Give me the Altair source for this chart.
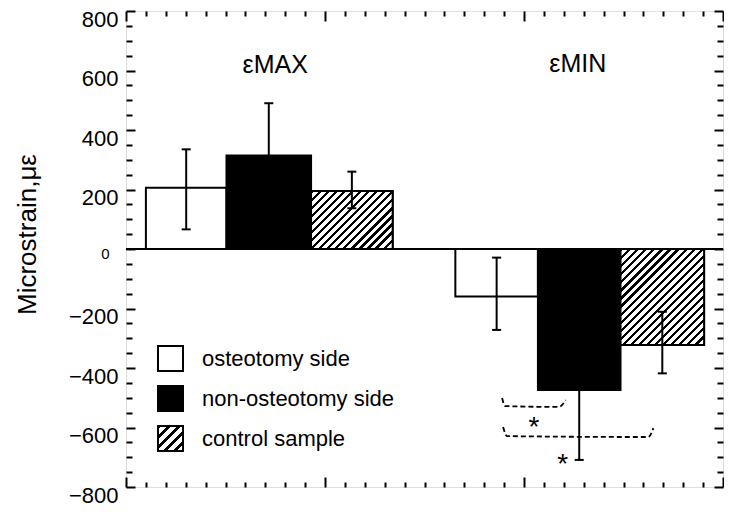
import math
import altair as alt
import pandas as pd

# ---------------- data ----------------
series_names = ["osteotomy side", "non-osteotomy side", "control sample"]
bar_group = ["εMAX", "εMAX", "εMAX", "εMIN", "εMIN", "εMIN"]
bar_series = series_names * 2
bar_start = [1.0, 5.05, 9.3, 16.55, 20.7, 24.85]
bar_end = [5.05, 9.3, 13.4, 20.7, 24.85, 29.05]
bar_mean = [206, 314, 195, -160, -474, -323]
err_low = [66, 138, 137, -272, -709, -418]
err_high = [335, 490, 260, -29, -239, -211]

heading_text = ["εMAX", "εMIN"]
heading_x = [7.5, 22.7]
heading_y = [618, 622]

bracket_id = [1, 1, 1, 1, 2, 2, 2, 2]
bracket_x = [18.9, 19.05, 21.75, 22.1, 18.95, 19.15, 26.25, 26.5]
bracket_y = [-501, -528, -531, -508, -598, -629, -632, -602]

star_x = [20.5, 21.95]
star_y = [-578, -703]

zero_line = [0]
y_major = list(range(-800, 801, 200))
y_minor = list(range(-800, 801, 50))
x_minor = list(range(0, 31))

# ---------------- layout ----------------
PAD_L, PAD_R, PAD_T, PAD_B = 118, 1, 3, 22
W, H = 597, 476
X_DOM, Y_DOM = [0, 30], [-800, 800]
FONT = "Liberation Sans"

xs = alt.Scale(domain=X_DOM, nice=False, zero=False)
ys = alt.Scale(domain=Y_DOM, nice=False, zero=False)

bars_df = pd.DataFrame({
    "idx": list(range(len(bar_mean))),
    "group": bar_group,
    "series": bar_series,
    "x0": bar_start,
    "x1": bar_end,
    "mean": bar_mean,
    "lo": err_low,
    "hi": err_high,
})


def hatch_stops(D, period, frac=0.4):
    stops = []
    n = math.ceil(D / period) + 1
    for i in range(n):
        a = i * period / D
        b = (i + frac) * period / D
        c = (i + 1) * period / D
        for off, col in [(a, "black"), (b, "black"), (b, "white"), (c, "white")]:
            if off <= 1:
                stops.append((off, col))
    return stops


def hatch_gradient(wpx, hpx, period=5.7):
    k = (1 / hpx + 1 / wpx) / (1 / hpx ** 2 + 1 / wpx ** 2)
    D = (wpx + hpx) / math.sqrt(2)
    return alt.LinearGradient(
        gradient="linear", x1=0, y1=0, x2=k / hpx, y2=k / wpx,
        stops=[alt.GradientStop(offset=o, color=c) for o, c in hatch_stops(D, period)],
    )


def legend_hatch_expr(side=25, period=7.0):
    D = 2 * side / math.sqrt(2)
    parts = ",".join("{offset:%.4f,color:'%s'}" % (o, c) for o, c in hatch_stops(D, period))
    return "{gradient:'linear',x1:0,y1:0,x2:1,y2:1,stops:[" + parts + "]}"


def cond(test, a, b):
    return {"condition": {"test": test, "value": a}, "value": b}


def tick_axis(orient, offset, values, test, major, minor):
    return alt.Axis(orient=orient, offset=offset, values=values, labels=False,
                    domain=False, grid=False, ticks=True, tickColor="black",
                    tickWidth=2, tickSize=cond(test, major, minor), title=None)


y_main_axis = alt.Axis(
    orient="left", values=y_major, ticks=False, tickSize=0, domain=False, grid=False,
    labelPadding=cond("datum.value === 0", 17, 8), labelColor="black", labelFont=FONT,
    labelFontSize=cond("datum.value === 0", 15, 22),
    labelOffset=cond("datum.value === 0", 4, 8),
    labelOverlap=False, labelFlush=False,
    title="Microstrain,με", titleFont=FONT, titleFontSize=26, titleFontWeight="normal",
    titleColor="black", titleX=-99, titleY=223, titleAngle=270,
    titleAlign="center", titleBaseline="middle",
)

base = alt.Chart(bars_df)

bars = base.mark_rect(stroke="black", strokeWidth=2).transform_calculate(zero="0").encode(
    x=alt.X("x0:Q", scale=xs, axis=None),
    x2="x1:Q",
    y=alt.Y("mean:Q", scale=ys, axis=y_main_axis),
    y2="zero:Q",
    fill=alt.Fill(
        "series:N",
        scale=alt.Scale(domain=series_names,
                        range=["white", "black", alt.ExprRef(expr=legend_hatch_expr())]),
        legend=alt.Legend(
            title=None, orient="none", legendX=31, legendY=334,
            symbolType="square", symbolSize=625, symbolStrokeColor="black",
            symbolStrokeWidth=2, symbolOpacity=1, labelFont=FONT, labelFontSize=22,
            labelColor="black", labelOffset=18, rowPadding=7, labelLimit=400,
        ),
    ),
)

layers = [bars]

# hatched overlays (one gradient per bar so stripes stay at 45°)
for i, s in enumerate(bar_series):
    if s != "control sample":
        continue
    wpx = (bar_end[i] - bar_start[i]) * W / (X_DOM[1] - X_DOM[0])
    hpx = abs(bar_mean[i]) * H / (Y_DOM[1] - Y_DOM[0])
    layers.append(
        base.transform_filter(f"datum.idx == {i}").transform_calculate(zero="0")
        .mark_rect(stroke="black", strokeWidth=2, fill=hatch_gradient(wpx, hpx))
        .encode(x=alt.X("x0:Q", scale=xs, axis=None), x2="x1:Q",
                y=alt.Y("mean:Q", scale=ys, axis=None), y2="zero:Q")
    )

zero_rule = alt.Chart(pd.DataFrame({"v": zero_line})).mark_rule(
    color="black", strokeWidth=2).encode(y=alt.Y("v:Q", scale=ys, axis=None))
layers.append(zero_rule)

whiskers = base.transform_calculate(xc="(datum.x0 + datum.x1) / 2").mark_rule(
    color="black", strokeWidth=2).encode(
    x=alt.X("xc:Q", scale=xs,
            axis=tick_axis("top", -H, x_minor, "datum.value % 10 === 0", 10, 5)),
    y=alt.Y("lo:Q", scale=ys,
            axis=tick_axis("right", -W, y_minor, "datum.value % 200 === 0", 9, 6)),
    y2="hi:Q",
)
layers.append(whiskers)

caps = base.transform_calculate(xc="(datum.x0 + datum.x1) / 2").transform_fold(
    ["lo", "hi"], as_=["end", "val"]).mark_tick(
    orient="horizontal", size=9, thickness=2, color="black", opacity=1).encode(
    x=alt.X("xc:Q", scale=xs,
            axis=tick_axis("bottom", -H, x_minor, "datum.value % 10 === 0", 10, 5)),
    y=alt.Y("val:Q", scale=ys,
            axis=tick_axis("left", -W, y_minor, "datum.value % 200 === 0", 9, 6)),
)
layers.append(caps)

brackets = alt.Chart(pd.DataFrame({"id": bracket_id, "x": bracket_x, "y": bracket_y})).mark_line(
    color="black", strokeWidth=1.8, strokeDash=[5, 3], interpolate="monotone").encode(
    x=alt.X("x:Q", scale=xs, axis=None),
    y=alt.Y("y:Q", scale=ys, axis=None),
    detail="id:N",
    order="x:Q",
)
layers.append(brackets)

headings = alt.Chart(pd.DataFrame({"t": heading_text, "x": heading_x, "y": heading_y})).mark_text(
    font=FONT, fontSize=25, color="black", baseline="middle", align="center").encode(
    x=alt.X("x:Q", scale=xs, axis=None),
    y=alt.Y("y:Q", scale=ys, axis=None),
    text="t:N",
)
layers.append(headings)

stars = alt.Chart(pd.DataFrame({"x": star_x, "y": star_y})).mark_text(
    text="*", font=FONT, fontSize=28, color="black", baseline="alphabetic",
    align="center", dy=15).encode(
    x=alt.X("x:Q", scale=xs, axis=None),
    y=alt.Y("y:Q", scale=ys, axis=None),
)
layers.append(stars)

chart = (
    alt.layer(*layers)
    .resolve_scale(x="shared", y="shared")
    .resolve_axis(x="independent", y="independent")
    .properties(width=W, height=H, autosize="none",
                padding={"left": PAD_L, "top": PAD_T, "right": PAD_R, "bottom": PAD_B})
    .configure_view(stroke="black", strokeWidth=2.5)
    .configure(font=FONT, background="white")
)

chart.save("out.html", embed_options={"renderer": "svg", "actions": False})
